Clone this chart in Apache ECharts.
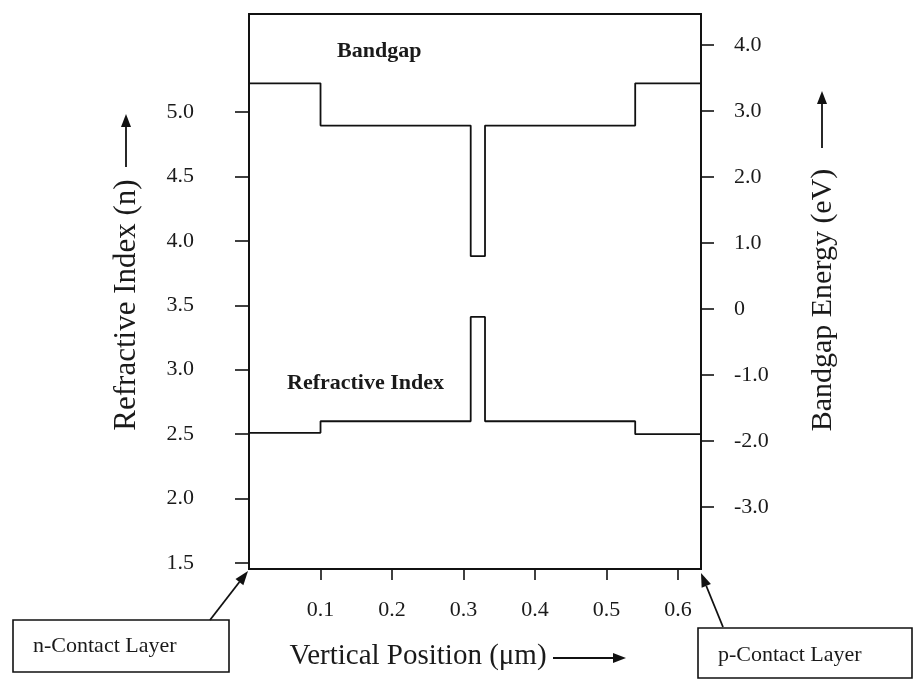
<!DOCTYPE html>
<html>
<head>
<meta charset="utf-8">
<title>Refractive Index and Bandgap Profile</title>
<script src="https://cdn.jsdelivr.net/npm/echarts@6/dist/echarts.min.js"></script>
<style>
  html, body { margin: 0; padding: 0; background: #ffffff; }
  #chart { width: 914px; height: 681px; }
</style>
</head>
<body>
<div id="chart"></div>
<script>
// Layer boundaries along the growth direction (µm)
const layerEdges = [0, 0.1, 0.31, 0.33, 0.54, 0.632];
// Bandgap energy of each layer (eV), right axis
const bandgapLevels = [3.42, 2.78, 0.80, 2.78, 3.42];
// Refractive index of each layer, left axis
const indexLevels = [2.51, 2.60, 3.41, 2.60, 2.50];

// Tick values shown on each axis
const positionTicks = [0.1, 0.2, 0.3, 0.4, 0.5, 0.6];
const indexTicks = [1.5, 2.0, 2.5, 3.0, 3.5, 4.0, 4.5, 5.0];
const energyTicks = [-3, -2, -1, 0, 1, 2, 3, 4];

const FONT = "'Liberation Serif', 'Times New Roman', serif";
const INK = '#111111';
const TEXT = '#1a1a1a';

// Turn layer edges + levels into a step profile (corners at each boundary)
function stepProfile(edges, levels) {
  const pts = [];
  for (let i = 0; i < levels.length; i++) {
    pts.push([edges[i], levels[i]]);
    pts.push([edges[i + 1], levels[i]]);
  }
  return pts;
}

// Straight arrow with a filled head at (x2, y2)
function arrow(x1, y1, x2, y2, head, halfW) {
  const dx = x2 - x1, dy = y2 - y1;
  const len = Math.sqrt(dx * dx + dy * dy);
  const ux = dx / len, uy = dy / len;
  const bx = x2 - ux * head, by = y2 - uy * head;
  const px = -uy * halfW, py = ux * halfW;
  return {
    type: 'group',
    children: [
      { type: 'line', shape: { x1: x1, y1: y1, x2: bx, y2: by },
        style: { stroke: INK, lineWidth: 1.8 } },
      { type: 'polygon', shape: { points: [[x2, y2], [bx + px, by + py], [bx - px, by - py]] },
        style: { fill: INK } }
    ]
  };
}

const chart = echarts.init(document.getElementById('chart'), null, { renderer: 'canvas' });

const axisLineStyle = { show: true, onZero: false, lineStyle: { color: INK, width: 1.8 } };

chart.setOption({
  animation: false,
  backgroundColor: '#ffffff',
  grid: {
    left: 249, right: 213, top: 14, bottom: 112,
    show: true, borderColor: INK, borderWidth: 1.8, backgroundColor: 'transparent'
  },
  xAxis: {
    type: 'value',
    min: 0, max: 0.632,
    axisLine: axisLineStyle,
    splitLine: { show: false },
    axisTick: { show: true, inside: false, length: 11, customValues: positionTicks,
      lineStyle: { color: INK, width: 1.6 } },
    axisLabel: {
      customValues: positionTicks, margin: 30,
      fontFamily: FONT, fontSize: 22, color: TEXT,
      formatter: v => v.toFixed(1)
    }
  },
  yAxis: [
    {
      type: 'value', position: 'left',
      min: 1.4534, max: 5.7605,
      axisLine: axisLineStyle,
      splitLine: { show: false },
      axisTick: { show: true, inside: false, length: 14, customValues: indexTicks,
        lineStyle: { color: INK, width: 1.6 } },
      axisLabel: {
        customValues: indexTicks, margin: 55,
        fontFamily: FONT, fontSize: 22, color: TEXT,
        formatter: v => v.toFixed(1)
      }
    },
    {
      type: 'value', position: 'right',
      min: -3.939, max: 4.470,
      axisLine: axisLineStyle,
      splitLine: { show: false },
      axisTick: { show: true, inside: false, length: 13, customValues: energyTicks,
        lineStyle: { color: INK, width: 1.6 } },
      axisLabel: {
        customValues: energyTicks, margin: 33,
        fontFamily: FONT, fontSize: 22, color: TEXT,
        formatter: v => (v === 0 ? '0' : v.toFixed(1))
      }
    }
  ],
  series: [
    {
      name: 'Refractive Index',
      type: 'line',
      yAxisIndex: 0,
      data: stepProfile(layerEdges, indexLevels),
      showSymbol: false,
      lineStyle: { color: INK, width: 1.8 },
      silent: true
    },
    {
      name: 'Bandgap',
      type: 'line',
      yAxisIndex: 1,
      data: stepProfile(layerEdges, bandgapLevels),
      showSymbol: false,
      lineStyle: { color: INK, width: 1.8 },
      silent: true
    }
  ],
  graphic: [
    // Curve labels inside the plot
    { type: 'text', left: 337, top: 40,
      style: { text: 'Bandgap', fontFamily: FONT, fontSize: 22, fontWeight: 'bold', fill: TEXT } },
    { type: 'text', left: 287, top: 372,
      style: { text: 'Refractive Index', fontFamily: FONT, fontSize: 22, fontWeight: 'bold', fill: TEXT } },

    // Axis titles
    { type: 'text', x: 127, y: 305, rotation: Math.PI / 2,
      style: { text: 'Refractive Index (n)', fontFamily: FONT, fontSize: 31, fill: TEXT,
        align: 'center', verticalAlign: 'middle' } },
    arrow(126, 167, 126, 114, 13, 5),
    { type: 'text', x: 823, y: 300, rotation: Math.PI / 2,
      style: { text: 'Bandgap Energy (eV)', fontFamily: FONT, fontSize: 30, fill: TEXT,
        align: 'center', verticalAlign: 'middle' } },
    arrow(822, 148, 822, 91, 13, 5),
    { type: 'text', x: 418, y: 656,
      style: { text: 'Vertical Position (\u03bcm)', fontFamily: FONT, fontSize: 29, fill: TEXT,
        align: 'center', verticalAlign: 'middle' } },
    arrow(553, 658, 626, 658, 13, 5),

    // Contact layer call-outs
    { type: 'rect', shape: { x: 13, y: 620, width: 216, height: 52 },
      style: { fill: '#ffffff', stroke: INK, lineWidth: 1.6 } },
    { type: 'text', x: 33, y: 646,
      style: { text: 'n-Contact Layer', fontFamily: FONT, fontSize: 22, fill: TEXT,
        align: 'left', verticalAlign: 'middle' } },
    arrow(210, 620, 248, 571, 14, 5),
    { type: 'rect', shape: { x: 698, y: 628, width: 214, height: 50 },
      style: { fill: '#ffffff', stroke: INK, lineWidth: 1.6 } },
    { type: 'text', x: 718, y: 655,
      style: { text: 'p-Contact Layer', fontFamily: FONT, fontSize: 22, fill: TEXT,
        align: 'left', verticalAlign: 'middle' } },
    arrow(723, 627, 701, 573, 14, 5)
  ]
});
</script>
</body>
</html>
